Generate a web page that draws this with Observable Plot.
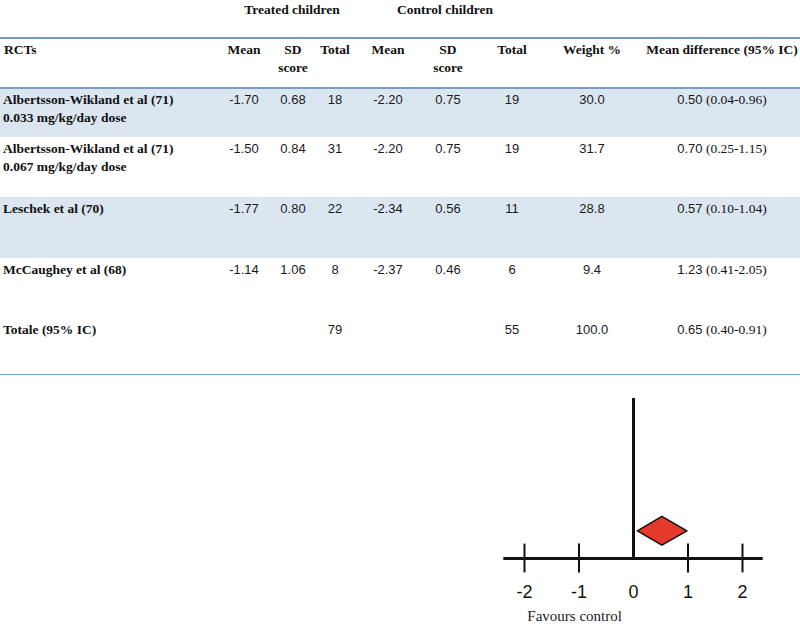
<!DOCTYPE html>
<html>
<head>
<meta charset="utf-8">
<script src="https://cdn.jsdelivr.net/npm/d3@7"></script>
<script src="https://cdn.jsdelivr.net/npm/@observablehq/plot@0.6"></script>
<style>
  body { margin: 0; background: #fff; }
  #wrap { position: relative; width: 800px; height: 625px; overflow: hidden; background: #fff; }
  #table { position: absolute; left: 0; top: 0; width: 800px; height: 380px; }
  .cell { position: absolute; white-space: nowrap; line-height: 18px; font-size: 13px; color: #111; }
  .serif { font-family: "Liberation Serif", "Times New Roman", serif; font-size: 13.5px; }
  .bold { font-weight: bold; }
  .sans { font-family: "Liberation Sans", Arial, sans-serif; font-size: 13px; color: #1a1a1a; }
  .line { position: absolute; left: 0; width: 800px; }
  .band { position: absolute; left: 0; width: 800px; background: #dce6f1; }
  #plot { position: absolute; left: 0; top: 375px; }
  #plot svg { display: block; }
</style>
</head>
<body>
<div id="wrap">
  <div id="table"></div>
  <div id="plot"></div>
</div>
<script>
// ---------- DATA ----------
const groupHeaders = ["Treated children", "Control children"];
const columnHeaders = ["RCTs", "Mean", "SD\nscore", "Total", "Mean", "SD\nscore", "Total", "Weight %", "Mean difference (95% IC)"];
const studies = [
  "Albertsson-Wikland et al (71)\n0.033 mg/kg/day dose",
  "Albertsson-Wikland et al (71)\n0.067 mg/kg/day dose",
  "Leschek et al (70)",
  "McCaughey et al (68)",
  "Totale (95% IC)"
];
const treatedMean = [-1.70, -1.50, -1.77, -1.14, null];
const treatedSD = [0.68, 0.84, 0.80, 1.06, null];
const treatedTotal = [18, 31, 22, 8, 79];
const controlMean = [-2.20, -2.20, -2.34, -2.37, null];
const controlSD = [0.75, 0.75, 0.56, 0.46, null];
const controlTotal = [19, 19, 11, 6, 55];
const weightPct = [30.0, 31.7, 28.8, 9.4, 100.0];
const meanDiff = [0.50, 0.70, 0.57, 1.23, 0.65];
const ciLow = [0.04, 0.25, 0.10, 0.41, 0.40];
const ciHigh = [0.96, 1.15, 1.04, 2.05, 0.91];

// forest plot (as drawn in the picture)
const axisTicks = [-2, -1, 0, 1, 2];
const axisExtent = [-2.38, 2.38];
const diamondX = [0.08, 0.53, 0.99];
const diamondLow = [0.17, 0.08, 0.17];
const diamondHigh = [0.17, 0.26, 0.17];
const favoursLabel = "Favours control";
const favoursAt = -1.08;

// ---------- TABLE (layout) ----------
const T = document.getElementById("table");
function add(cls, style, text) {
  const d = document.createElement("div");
  d.className = cls;
  Object.assign(d.style, style);
  if (text != null) d.innerText = text;
  T.appendChild(d);
  return d;
}
const rowTops = [88, 137, 197, 258, 318];
const rowBottoms = [137, 197, 258, 318, 375];
const shaded = [true, false, true, false, false];
rowTops.forEach((t, i) => {
  if (shaded[i]) add("band", {top: t + "px", height: (rowBottoms[i] - t) + "px"});
});
add("line", {top: "37px", height: "2px", background: "#7499c6"});
add("line", {top: "87px", height: "2px", background: "#7b9cc8"});
add("line", {top: "374px", height: "2px", background: "#7b9cc8"});

// group headers
const groupCenters = [292, 445];
groupHeaders.forEach((g, i) => add("cell serif bold", {left: (groupCenters[i] - 80) + "px", width: "160px", textAlign: "center", top: "1px"}, g));

// column headers
const colCenters = [null, 244, 293, 335, 388, 448, 512, 592, 722];
columnHeaders.forEach((h, i) => {
  if (i === 0) add("cell serif bold", {left: "4px", top: "41px"}, h);
  else add("cell serif bold", {left: (colCenters[i] - 90) + "px", width: "180px", textAlign: "center", top: "41px"}, h);
});

const fmt2 = v => v == null ? "" : v.toFixed(2);
const cols = [
  treatedMean.map(fmt2), treatedSD.map(fmt2), treatedTotal.map(String),
  controlMean.map(fmt2), controlSD.map(fmt2), controlTotal.map(String),
  weightPct.map(v => v.toFixed(1))
];
studies.forEach((s, r) => {
  const top = rowTops[r] + 3;
  add("cell serif bold", {left: "3px", top: top + "px"}, s);
  cols.forEach((c, j) => {
    add("cell sans", {left: (colCenters[j + 1] - 50) + "px", width: "100px", textAlign: "center", top: top + "px"}, c[r]);
  });
  const d = add("cell", {left: (colCenters[8] - 90) + "px", width: "180px", textAlign: "center", top: top + "px"});
  d.innerHTML = `<span class="sans">${meanDiff[r].toFixed(2)}</span><span class="serif"> (${ciLow[r].toFixed(2)}-${ciHigh[r].toFixed(2)})</span>`;
});

// ---------- FOREST PLOT ----------
const diamond = diamondX.map((x, i) => ({x, y1: diamondLow[i], y2: diamondHigh[i]}));
const chart = Plot.plot({
  width: 800,
  height: 250,
  marginLeft: 524,
  marginRight: 58,
  marginTop: 23,
  marginBottom: 67,
  style: {fontFamily: "Liberation Sans, Arial, sans-serif", fontSize: "18px", color: "#111", background: "#fff", overflow: "visible"},
  x: {domain: [-2, 2], ticks: axisTicks, tickSize: 0, tickPadding: 27, label: null, tickFormat: d => d < 0 ? "-" + Math.abs(d) : String(d)},
  y: {domain: [0, 1], axis: null},
  marks: [
    Plot.ruleY([0], {x1: axisExtent[0], x2: axisExtent[1], stroke: "#111", strokeWidth: 3}),
    Plot.ruleX(axisTicks.filter(t => t !== 0), {y1: -0.09, y2: 0.09, stroke: "#111", strokeWidth: 2}),
    Plot.ruleX([0], {y1: 0, y2: 1, stroke: "#111", strokeWidth: 3}),
    Plot.areaY(diamond, {x: "x", y1: "y1", y2: "y2", fill: "#e5392b", stroke: "#111", strokeWidth: 1.5}),
    Plot.text([favoursLabel], {x: () => favoursAt, frameAnchor: "bottom", dy: 62, text: d => d, fontFamily: "Liberation Serif, Times New Roman, serif", fontSize: 15, fill: "#222"})
  ]
});
document.getElementById("plot").appendChild(chart);
</script>
</body>
</html>
